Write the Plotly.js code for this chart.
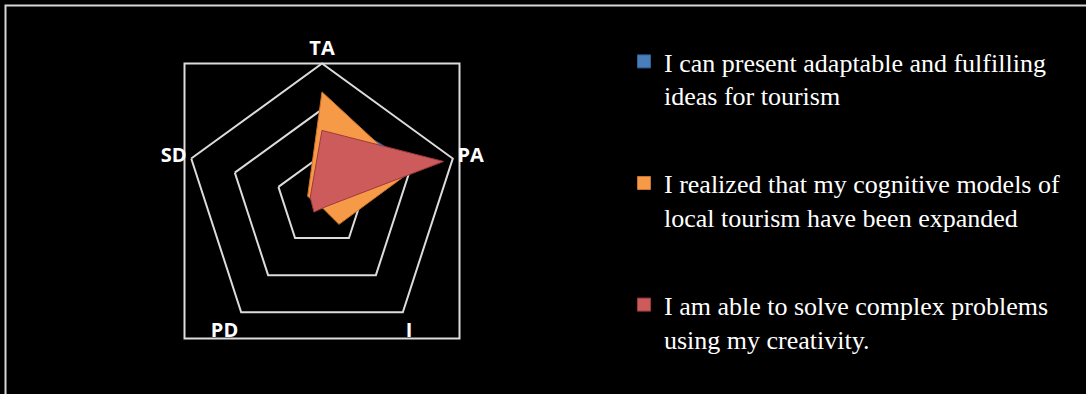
<!DOCTYPE html>
<html>
<head>
<meta charset="utf-8">
<script src="https://cdn.plot.ly/plotly-3.0.1.min.js"></script>
<style>
  html, body { margin: 0; padding: 0; background: #000; }
  #chart { width: 1086px; height: 394px; }
</style>
</head>
<body>
<div id="chart"></div>
<script>
// ---- data ----
const categories = ['TA', 'PA', 'I', 'PD', 'SD'];
const seriesNames = [
  'I can present adaptable and fulfilling<br>ideas for tourism',
  'I realized that my cognitive models of<br>local tourism have been expanded',
  'I am able to solve complex problems<br>using my creativity.'
];
const presentIdeas = [2.0, 2.3, 0.2, 0.2, 0.3];
const cognitiveModels = [2.38, 2.0, 0.63, 0.1, 0.33];
const solveProblems = [1.54, 2.79, 0.15, 0.3, 0.27];
const radialTicks = [1, 2, 3];

const seriesValues = [presentIdeas, cognitiveModels, solveProblems];
const fillColors = ['#4a7ebb', '#f79a48', '#cd5b5c'];
const edgeColors = ['#2f5f94', '#c8732b', '#9c3a3b'];

const traces = [];
seriesValues.forEach((vals, i) => {
  traces.push({
    type: 'scatterpolar',
    r: vals.concat([vals[0]]),
    theta: categories.concat([categories[0]]),
    mode: 'lines',
    fill: 'toself',
    fillcolor: fillColors[i],
    line: { color: edgeColors[i], width: 1 },
    showlegend: false,
    hoverinfo: 'skip'
  });
});
seriesValues.forEach((vals, i) => {
  traces.push({
    type: 'scatterpolar',
    r: [null],
    theta: [null],
    mode: 'markers',
    name: seriesNames[i],
    legendgroup: 'g' + i,
    marker: { symbol: 'square', size: 13, color: fillColors[i],
              line: { color: edgeColors[i], width: 1 } },
    showlegend: true
  });
});

const W = 1086, H = 394;
const px = v => v / W, py = v => 1 - v / H;

const layout = {
  width: W, height: H,
  margin: { l: 0, r: 0, t: 0, b: 0 },
  paper_bgcolor: '#000000',
  plot_bgcolor: '#000000',
  showlegend: true,
  polar: {
    domain: { x: [px(184.5), px(459.5)], y: [py(338.5), py(63.5)] },
    bgcolor: '#000000',
    gridshape: 'linear',
    radialaxis: {
      range: [0, 3],
      tickvals: radialTicks,
      showticklabels: false,
      ticks: '',
      showline: false,
      gridcolor: '#dcdcdc',
      gridwidth: 2
    },
    angularaxis: {
      type: 'category',
      categoryarray: categories,
      rotation: 90,
      direction: 'clockwise',
      showgrid: false,
      showline: true,
      linecolor: '#dcdcdc',
      linewidth: 2,
      ticks: '',
      tickfont: { family: 'Open Sans', size: 20, color: '#ffffff', weight: 'bold' }
    }
  },
  legend: {
    x: px(624), xanchor: 'left',
    y: py(38), yanchor: 'top',
    valign: 'top',
    bgcolor: 'rgba(0,0,0,0)',
    font: { family: 'Liberation Serif', size: 26, color: '#ffffff' },
    tracegroupgap: 51
  },
  shapes: [
    { type: 'rect', xref: 'paper', yref: 'paper',
      x0: px(184.5), x1: px(459.5), y0: py(338.5), y1: py(63.5),
      line: { color: '#dcdcdc', width: 2 }, fillcolor: 'rgba(0,0,0,0)', layer: 'below' },
    { type: 'rect', xref: 'paper', yref: 'paper',
      x0: px(5.5), x1: 1.05, y0: -0.05, y1: py(5.5),
      line: { color: '#d6d6d6', width: 2 }, fillcolor: 'rgba(0,0,0,0)' }
  ]
};

Plotly.newPlot('chart', traces, layout, { displayModeBar: false, staticPlot: true });
</script>
</body>
</html>
